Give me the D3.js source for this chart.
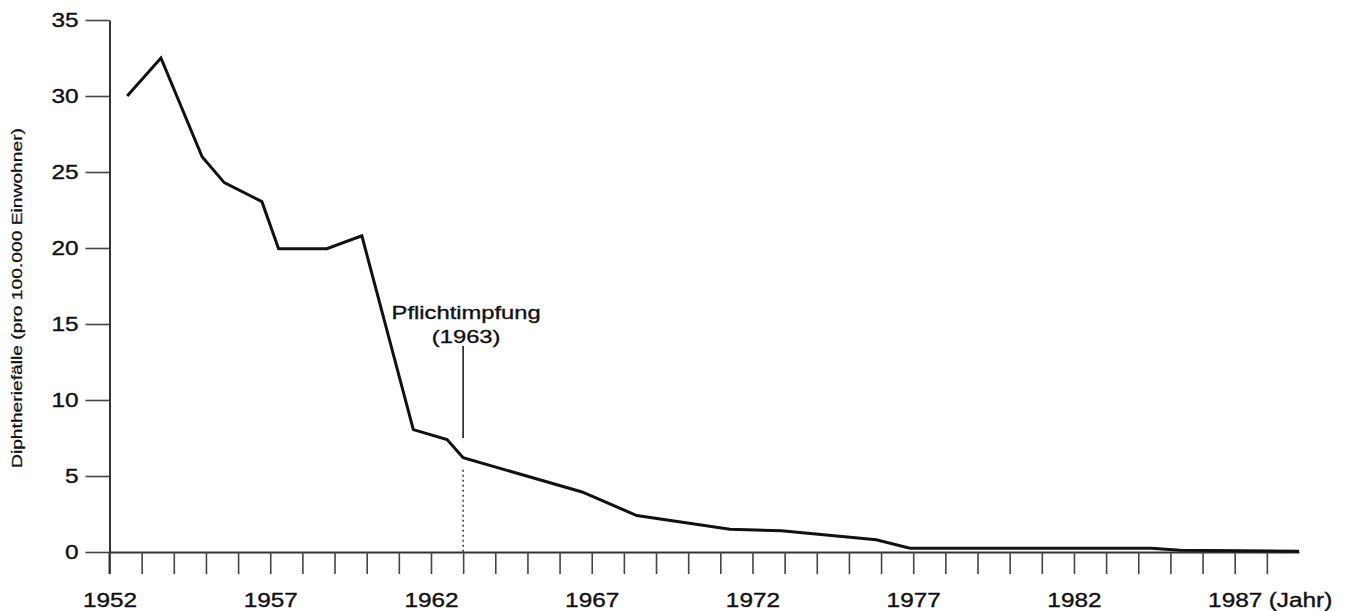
<!DOCTYPE html>
<html><head><meta charset="utf-8">
<script src="https://cdn.jsdelivr.net/npm/d3@7"></script>
<style>
html,body{margin:0;padding:0;background:#fff;}
text{font-family:"Liberation Sans",Arial,Helvetica,sans-serif;fill:#111;stroke:#111;stroke-width:0.35px;}
</style></head>
<body><svg id="c" width="1345" height="611"></svg>
<script>
// Data (year position, cases per 100,000 inhabitants)
const years  = [1952.55,1953.6,1954.88,1955.57,1956.74,1957.26,1958.76,1959.85,1961.45,1962.5,1963.0,1966.7,1968.4,1971.3,1972.9,1975.85,1976.9,1984.4,1985.3,1989.0];
const values = [30.0,32.5,26.0,24.3,23.05,19.95,19.95,20.8,8.05,7.4,6.2,3.95,2.4,1.5,1.4,0.8,0.25,0.25,0.12,0.05];
const yTicks = [0,5,10,15,20,25,30,35];
const xTickYears = d3.range(1952,1989);
const xLabelYears = [1952,1957,1962,1967,1972,1977,1982,1987];
const yLabel = "Diphtheriefälle (pro 100.000 Einwohner)";
const annotYear = 1963;
const annotLines = ["Pflichtimpfung","(1963)"];
const unitLabel = "(Jahr)";

const svg = d3.select("#c");
const SX = 1.25; // horizontal stretch of the scanned lettering
const x = d3.scaleLinear().domain([1952,1989]).range([109.5,1299]);
const y = d3.scaleLinear().domain([0,35]).range([552,20]);

// X axis
const gx = svg.append("g").attr("transform",`translate(0,${y(0)})`)
  .call(d3.axisBottom(x).tickValues(xTickYears).tickSizeInner(22).tickSizeOuter(0)
    .tickFormat(d => xLabelYears.includes(d) ? String(d) : ""));
gx.select(".domain").attr("stroke","#333").attr("stroke-width",2);
gx.selectAll(".tick line").attr("stroke","#444").attr("stroke-width",1.6);
gx.selectAll(".tick text").attr("y",41).attr("dy","0.71em")
  .attr("font-size",19.5).attr("transform",`scale(${SX},1)`).attr("fill","#111");

// Y axis
const gy = svg.append("g").attr("transform",`translate(${x(1952)},0)`)
  .call(d3.axisLeft(y).tickValues(yTicks).tickSizeInner(24).tickSizeOuter(0));
gy.select(".domain").attr("stroke","#333").attr("stroke-width",2);
gy.selectAll(".tick line").attr("stroke","#444").attr("stroke-width",1.6);
gy.selectAll(".tick text").attr("x",-31/SX).attr("font-size",19.5)
  .attr("transform",`scale(${SX},1)`).attr("fill","#111");
// extension of the y axis below zero (first year tick)
svg.append("line").attr("x1",x(1952)).attr("x2",x(1952)).attr("y1",y(0)).attr("y2",y(0)+22)
  .attr("stroke","#333").attr("stroke-width",2);

// "(Jahr)"
svg.append("text").attr("transform",`translate(${x(1987)+34},${y(0)+41}) scale(${SX},1)`)
  .attr("dy","0.71em").attr("font-size",19.5).text(unitLabel);

// Y label
svg.append("text").attr("transform","translate(22,298) rotate(-90)")
  .attr("text-anchor","middle").attr("font-size",14).style("stroke-width","0.25px")
  .attr("textLength",340).attr("lengthAdjust","spacingAndGlyphs").text(yLabel);

// Annotation
const ax = x(annotYear);
const annIdx = years.indexOf(annotYear);
svg.append("line").attr("x1",ax).attr("x2",ax).attr("y1",346).attr("y2",438)
  .attr("stroke","#222").attr("stroke-width",1.6);
svg.append("line").attr("x1",ax).attr("x2",ax).attr("y1",y(values[annIdx])+12).attr("y2",y(0))
  .attr("stroke","#444").attr("stroke-width",1.6).attr("stroke-dasharray","2,3");
annotLines.forEach((t,i)=>{
  svg.append("text").attr("transform",`translate(${ax+3},${319+i*24}) scale(${SX},1)`)
    .attr("text-anchor","middle").attr("font-size",19).text(t);
});

// Data line
const line = d3.line().x((d,i)=>x(years[i])).y(d=>y(d));
svg.append("path").datum(values).attr("d",line).attr("fill","none")
  .attr("stroke","#111").attr("stroke-width",3).attr("stroke-linejoin","miter");
</script></body></html>
